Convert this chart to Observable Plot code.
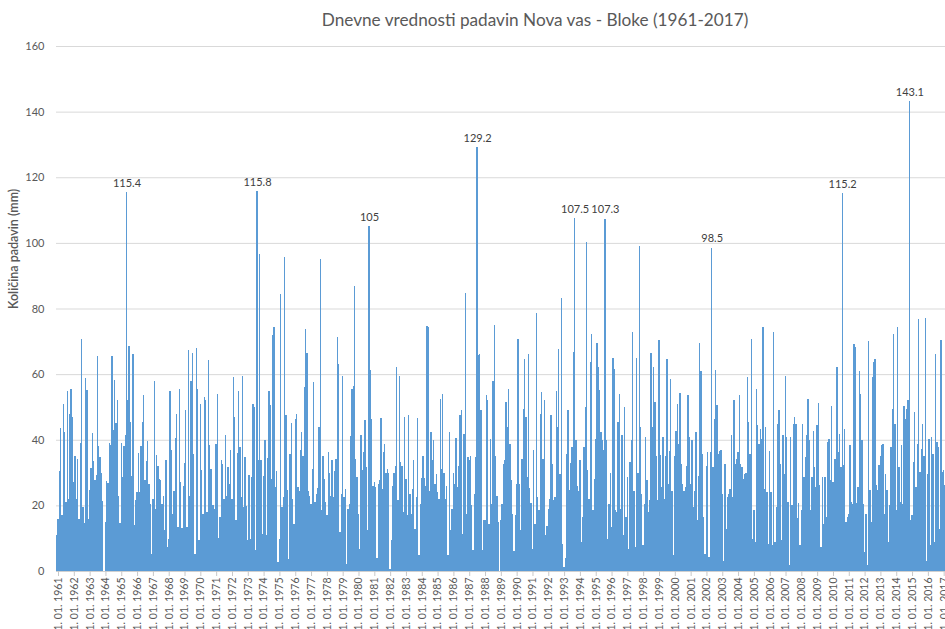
<!DOCTYPE html>
<html>
<head>
<meta charset="utf-8">
<script src="https://cdn.jsdelivr.net/npm/d3@7"></script>
<script src="https://cdn.jsdelivr.net/npm/@observablehq/plot@0.6"></script>
<style>
  body { margin: 0; background: #fff; font-family: Lato, "Open Sans", sans-serif; }
  #wrap { position: relative; width: 945px; height: 629px; overflow: hidden; background: #fff; }
  #title { position: absolute; left: 535px; top: 9px; transform: translateX(-50%); white-space: nowrap;
           font-size: 17.2px; color: #595959; font-family: Lato, sans-serif; }
  #chart { position: absolute; left: 0; top: 36px; }
</style>
</head>
<body>
<div id="wrap">
  <div id="title">Dnevne vrednosti padavin Nova vas - Bloke (1961-2017)</div>
  <div id="chart"></div>
</div>
<script>
// Highest daily precipitation (mm) per month; one row per year.
const startYear = 1961;
const y1961_1970 = [
  [11,16,30.5,43.5,17,51,42.5,21,55,22,48,55.4],
  [47,27,35,22,34,16,39,70.7,19.6,14.5,58.8,55.2],
  [16,24.7,31.3,42.2,33.6,27.8,29.3,65.6,38,34.7,29.8,21.2],
  [0,14.8,27.5,26.8,39,38.5,65.4,43,58.3,45,52.2,23],
  [14.6,39,28.6,38,41.3,115.4,52,68.7,45.4,29,66,13.9],
  [21.5,24,36,24,38,45.4,53.7,27.6,33.5,39.6,26.4,20.5],
  [5.3,22,58,19,35.5,32,28,27.6,20.5,23,12.4,33.7],
  [7.3,9.8,55,37,17.3,24.5,40.6,48,13.4,55.5,27,13.2],
  [26,33,49,13.4,67.4,23,57.8,66.4,35.7,5.3,68,55.4],
  [9.3,50.8,30.7,17.5,53,52,18,64.2,38.3,31,20,20]
];
const y1971_1980 = [
  [19,38.6,54,10,16.4,33.7,32.7,22,41.6,23,31.7,26.6],
  [37,22,59,47,15.6,36,55,37.8,22.5,59.5,19.5,34.7],
  [19.7,9.3,29.4,9.8,28.6,51,50,6.3,115.8,33.7,96.6,33.7],
  [11.4,29,39.8,10.9,34.5,55,50.5,28,71.8,74.3,25.6,30.5],
  [2.7,9.8,84.5,19.5,22.5,95.8,47.4,24.8,3.8,35.7,45,22],
  [14.4,46.4,48,25.6,24.5,36.8,42.3,35,56.2,73.8,66.5,24.4],
  [23,20.5,31,57.6,21,23.5,25.4,44,95,18.5,35.2,28],
  [21,17,36.2,30,23,33.7,22.5,30.5,34,71.3,63,12],
  [23.5,59.5,22.5,25,2.2,19,20.5,41,55.5,56.5,87,34.2],
  [28.6,17.5,6.8,41.3,30.7,36.2,46,31.7,12.4,105,61.3,46.4]
];
const y1981_1990 = [
  [26,27,25.6,4,26.6,27.6,46.6,25,36.2,38.8,30,31],
  [30,0.7,9.3,26,30,32,62.3,21.5,59.3,33.2,32,18],
  [47,28,17,47.4,23.5,17.5,25,33.7,12.9,22.5,46.6,4.8],
  [20.5,28.4,35,28.4,26,74.8,74.3,24.5,42.3,33.7,39.8,26.6],
  [29.6,24,22,52.5,31,54,30,22,26,4.8,42.3,12.4],
  [19,30,26.6,40.6,25.6,32,47.4,49,11.4,41.8,84.7,17.5],
  [34.7,33.7,35.2,20,6.3,23.5,34.7,129.2,65.7,66,49,6.3],
  [15.6,15.4,53.7,52,14.4,40.3,20.5,57.9,75,35.2,23,15],
  [0,15.4,20.3,32.7,33.7,51.5,43.8,55.5,38.8,27.6,17.5,6],
  [17,26.6,70.8,26.6,12.4,34,49.4,64.7,47,28.6,66,25.4]
];
const y1991_2000 = [
  [20.7,6.8,36.8,14.4,78.6,22.5,18.5,48,54.5,34.2,52,10.9],
  [13.6,19,22,47.4,32.7,21.5,22.5,55,43.8,67.7,29.6,83.1],
  [8.3,1.2,4,35.7,49,24.8,33,37.8,66.7,107.5,39.8,26],
  [24.5,33.7,8.8,16.4,37.8,50,100.2,30.7,22,63.7,72.3,18.5],
  [28,40.3,69.4,62.3,55.2,42.3,39.8,36.8,107.3,39.8,9.8,20.5],
  [29.8,13.4,65,61.6,18.5,18,45.4,54,19,41.3,10.9,50],
  [16.4,28.6,6.8,33.2,40,72.8,24.5,7.3,64.9,30,99.2,43.8],
  [23.5,7.8,20.5,40.8,27.6,18,21.5,66.4,44,62.3,51.5,35.2],
  [21.5,70.3,35.5,25.6,40.8,22,35.2,64.7,26.6,36.5,58.6,24.5],
  [4.8,35.2,42.8,51,38.8,54.2,32.7,26.6,24.5,25.6,32,53.5]
];
const y2001_2010 = [
  [40.8,26.6,39.8,19.5,24.5,42.3,15.4,29,69.4,61,35.7,16.4],
  [5.3,32,36.2,4.3,36.2,98.5,31.7,46.4,61.3,50.5,35.7,36.5],
  [36.8,23.5,3.2,32.7,12.9,22.5,23.5,25,41.3,22.5,52,32.7],
  [34.2,36.2,53.5,32.7,31.7,28.1,29.6,30,59,45.4,35.7,70.8],
  [9.8,18.5,8.8,55.5,44.4,38.8,43.4,40.3,74.5,25,43.9,24],
  [8.3,36.5,24,7.8,72.8,8.8,19.5,44.9,49.1,32.7,9.3,41.6],
  [29.6,59.3,40.8,21,1.7,40.8,20,44.9,46.9,44.9,16.2,20.7],
  [7.8,18.5,44.9,28.6,34.7,41.3,52.5,39.8,18.5,28.6,42.8,31.7],
  [25.6,44.4,51.2,26.1,7.3,28.6,14.4,28.6,16.4,39.3,40.3,27.6],
  [50.2,27.1,34.2,34.2,62.1,36.2,41.8,31.7,115.2,32.2,43.4,14.9]
];
const y2011_2017 = [
  [16.4,17.5,38.3,21,20.5,69.2,68.2,20.7,25.6,61.1,54,39.8],
  [20.5,5.8,17.5,1.7,70,24.6,14.9,59,63.7,64.7,26.1,24.8],
  [32.2,35.2,38.3,38.8,17.5,29.6,24.6,8.8,20,37.8,49.4,72.3],
  [44.9,18.5,74.5,31.7,21,38.3,20.5,50.2,46.4,49.4,52,143.1],
  [15.4,17,33.2,48.4,25.6,38.8,76.9,30.2,37.3,44.9,35.2,77.2],
  [3.2,29.6,40.3,7.8,40.8,35.7,8.8,66.2,39.3,37.8,12.9,70.3],
  [30.2,30.7,26.1]
];
// values that carry a data label in the original chart
const labeledValues = [115.4, 115.8, 105, 129.2, 107.5, 107.3, 98.5, 115.2, 143.1];
const yearTicks = d3.range(1961, 2018);
const yTicks = [0, 20, 40, 60, 80, 100, 120, 140, 160];

const years = [...y1961_1970, ...y1971_1980, ...y1981_1990, ...y1991_2000, ...y2001_2010, ...y2011_2017];
const rows = [];
years.forEach((months, i) => months.forEach((v, m) => {
  const t0 = startYear + i + m / 12, t1 = startYear + i + (m + 1) / 12;
  rows.push({t0, t1, tc: (t0 + t1) / 2, v});
}));
const peaks = rows.filter(d => labeledValues.includes(d.v));

const chart = Plot.plot({
  width: 945,
  height: 593,
  marginTop: 10,
  marginBottom: 58,
  marginLeft: 56,
  marginRight: 0,
  style: {fontFamily: "Lato, sans-serif", fontSize: "11px", color: "#595959", background: "#fff"},
  x: {domain: [1961, 2017.21]},
  y: {domain: [0, 160]},
  marks: [
    Plot.gridY(yTicks, {stroke: "#d9d9d9", strokeOpacity: 1}),
    Plot.axisY(yTicks, {tickSize: 0, tickPadding: 12, fontSize: 11, label: null}),
    Plot.text(["Količina padavin (mm)"], {frameAnchor: "left", dx: -43, rotate: -90, fontSize: 12.5,
      fill: "#595959", fontWeight: 600}),
    Plot.rectY(rows, {x1: "t0", x2: "t1", y: "v", fill: "#5B9BD5", shapeRendering: "crispEdges", clip: true}),
    Plot.ruleY([0], {stroke: "#d0d0d0"}),
    Plot.axisX(yearTicks, {tickFormat: d => `1. 01. ${d}`, tickRotate: -90, tickSize: 5, tickPadding: 1,
      stroke: "#c8c8c8", dx: 2, fontSize: 10.5, label: null}),
    Plot.text(peaks, {x: "tc", y: "v", text: d => String(d.v), dy: -6, lineAnchor: "bottom",
      fill: "#404040", fontSize: 11})
  ]
});
document.getElementById("chart").appendChild(chart);
</script>
</body>
</html>
